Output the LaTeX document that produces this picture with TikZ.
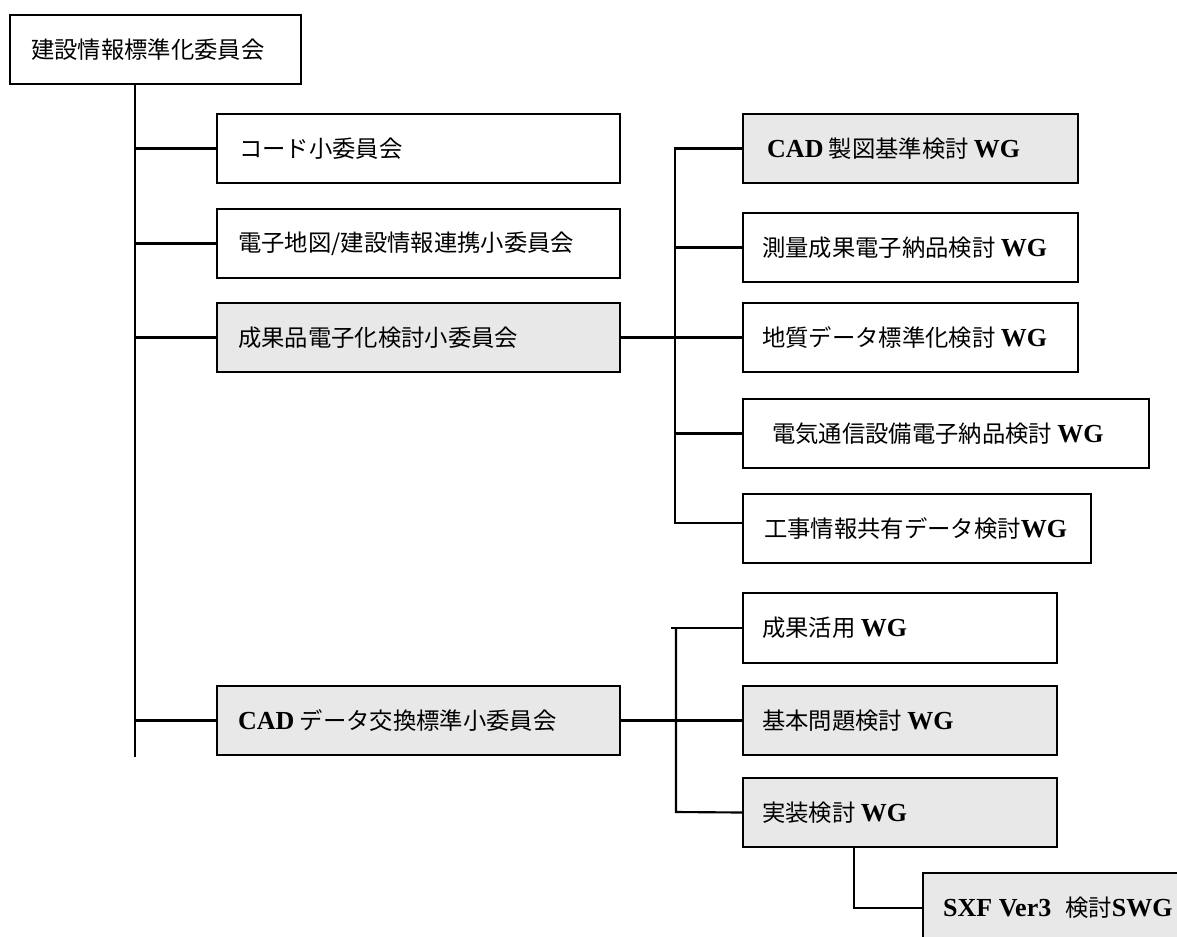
\documentclass[tikz,border=0pt]{standalone}
\usepackage{fontspec}
\setmainfont{Noto Sans CJK JP}
\newfontfamily\latfont{Liberation Serif}
\newcommand\W[1]{{\latfont\bfseries\fontsize{19.5pt}{22pt}\selectfont #1}}
\definecolor{boxgray}{RGB}{232,232,232}
\newcommand\orgbox[8]{%
  \node[bx,#6,minimum width={(#4-#2)*0.75pt},minimum height={(#5-#3)*0.75pt}] (#1) at ({(#2+#4)/2},{(#3+#5)/2}) {};
  \node[lbl] (#1t) at ([xshift=#8*0.75pt]#1.west) {#7};
}
\tikzset{
  bx/.style={draw,line width=1.6pt,rectangle,inner sep=0pt},
  shaded/.style={fill=boxgray},
  plain/.style={fill=white},
  lbl/.style={anchor=west,inner sep=0pt,font=\fontsize{17.5pt}{20pt}\selectfont},
  conn/.style={line width=1.6pt}
}
\begin{document}
\begin{tikzpicture}[x=0.75pt,y=-0.75pt]
\useasboundingbox (0,0) rectangle (1177,936);
\clip (0,0) rectangle (1177,936);
% left column
\orgbox{top}{10}{15}{301}{84}{plain}{建設情報標準化委員会}{22}
\orgbox{code}{217}{114}{620}{183}{plain}{コード小委員会}{23}
\orgbox{denshi}{217}{209}{620}{278}{plain}{電子地図/建設情報連携小委員会}{22}
\orgbox{seika}{217}{303}{620}{372}{shaded}{成果品電子化検討小委員会}{22}
\orgbox{caddata}{217}{686}{620}{755}{shaded}{\W{CAD} データ交換標準小委員会}{22}
% right column, upper group
\orgbox{cadsei}{743}{114}{1078}{183}{shaded}{\W{CAD} 製図基準検討 \W{WG}}{25}
\orgbox{sokuryo}{743}{213}{1078}{282}{plain}{測量成果電子納品検討 \W{WG}}{20}
\orgbox{chishitsu}{743}{303}{1078}{372}{plain}{地質データ標準化検討 \W{WG}}{20}
\orgbox{denki}{743}{399}{1149}{468}{plain}{電気通信設備電子納品検討 \W{WG}}{30}
\orgbox{koji}{743}{494}{1091}{563}{plain}{工事情報共有データ検討\W{WG}}{22}
% right column, lower group
\orgbox{katsuyo}{743}{593}{1057}{663}{plain}{成果活用 \W{WG}}{20}
\orgbox{kihon}{743}{686}{1057}{755}{shaded}{基本問題検討 \W{WG}}{20}
\orgbox{jisso}{743}{778}{1057}{847}{shaded}{実装検討 \W{WG}}{20}
\orgbox{sxf}{923}{873}{1200}{943}{shaded}{\W{SXF Ver3}\hspace{0.6em}検討\W{SWG}}{21}
% trunk coordinates
\coordinate (trunkEnd) at (135,757);
\coordinate (upEnd) at (675,523);
\coordinate (lowTop) at (676,628);
\coordinate (lowLeft) at (671,628);
\coordinate (lowEnd) at (676,812);
\coordinate (jdrop) at (854,908);
% main trunk
\draw[conn] (top.south -| trunkEnd) -- (trunkEnd);
\draw[conn] (code.west -| trunkEnd) -- (code.west);
\draw[conn] (denshi.west -| trunkEnd) -- (denshi.west);
\draw[conn] (seika.west -| trunkEnd) -- (seika.west);
\draw[conn] (caddata.west -| trunkEnd) -- (caddata.west);
% upper WG group
\draw[conn] (seika.east) -- (seika.east -| upEnd);
\draw[conn] (cadsei.west) -- (cadsei.west -| upEnd) -- (upEnd) -- (koji.west |- upEnd);
\draw[conn] (sokuryo.west -| upEnd) -- (sokuryo.west);
\draw[conn] (chishitsu.west -| upEnd) -- (chishitsu.west);
\draw[conn] (denki.west -| upEnd) -- (denki.west);
% lower WG group
\draw[conn] (caddata.east) -- (kihon.west);
\draw[conn] (lowLeft) -- (katsuyo.west);
\draw[conn] (lowTop) -- (lowEnd) -- (jisso.west);
% SWG
\draw[conn] (jisso.south -| jdrop) -- (jdrop) -- (sxf.west);
\end{tikzpicture}
\end{document}
